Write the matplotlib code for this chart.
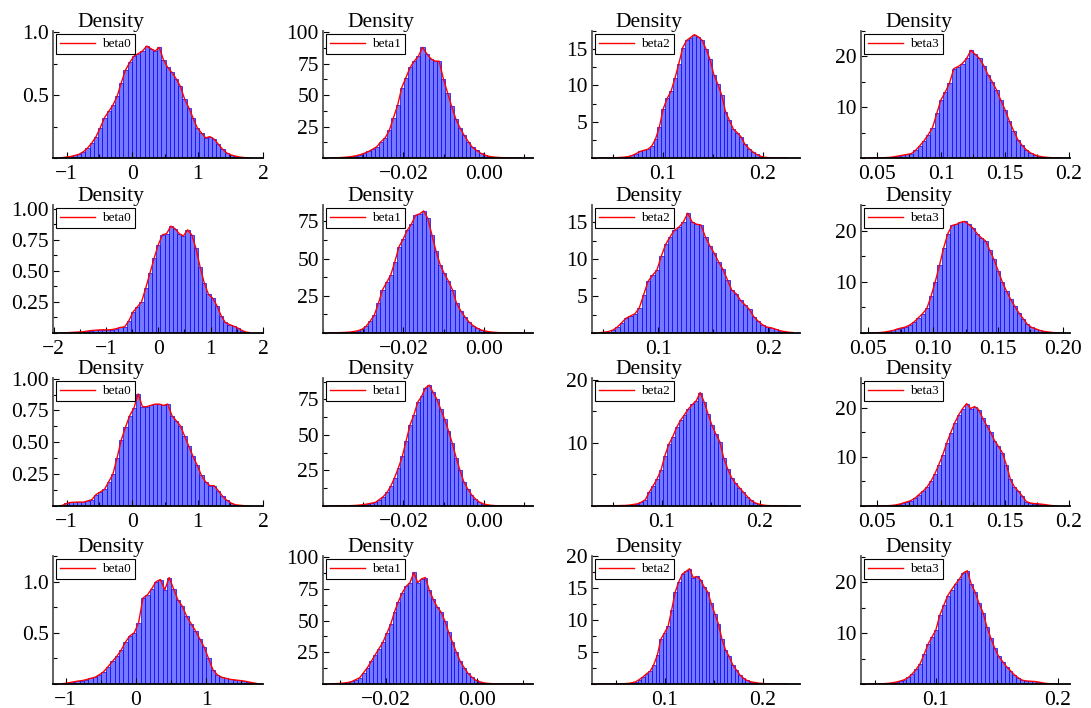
import matplotlib
matplotlib.use("Agg")
import matplotlib.pyplot as plt
from matplotlib.ticker import AutoMinorLocator
import numpy as np

plt.rcParams["font.family"] = ["Liberation Serif", "DejaVu Serif"]

W, H = 1091, 708

# column names (one parameter per column), one MCMC chain per row
params = ["beta0", "beta1", "beta2", "beta3"]

# histogram bin heights (density); bins span [lo, hi]
h11 = [0.003, 0.008, 0.012, 0.02, 0.03, 0.05, 0.08, 0.12, 0.17, 0.24, 0.32, 0.37, 0.42, 0.49, 0.60,
       0.70, 0.76, 0.81, 0.83, 0.85, 0.89, 0.87, 0.85, 0.88, 0.78, 0.72, 0.68, 0.63, 0.57, 0.47,
       0.40, 0.32, 0.24, 0.20, 0.16, 0.17, 0.15, 0.11, 0.07, 0.04, 0.025, 0.015, 0.008, 0.004, 0.001]
h12 = [0.1, 0.2, 0.3, 0.5, 0.8, 1.2, 1.8, 2.6, 3.8, 5.2, 7, 9, 13, 16, 22,
       32, 42, 56, 64, 72, 77, 81, 88, 83, 79, 77, 77, 63, 52, 41,
       31, 24, 18, 13, 8.5, 6, 3.8, 2.3, 1.3, 0.8, 0.5, 0.3, 0.2, 0.1, 0.05]
h13 = [0.0, 0.02, 0.03, 0.05, 0.08, 0.12, 0.2, 0.35, 0.6, 0.9, 1.05, 1.2, 1.6, 2.6, 4.3,
       6.8, 8.2, 9.2, 11, 13, 15.2, 16.2, 16.6, 17, 16.7, 16.2, 15, 13.6, 11.5, 10.2,
       8.7, 6.4, 5.2, 4.0, 3.5, 2.9, 1.9, 1.3, 0.85, 0.5, 0.25, 0.1, 0.05, 0.02, 0.01]
h14 = [0.02, 0.03, 0.05, 0.08, 0.12, 0.25, 0.4, 0.55, 0.7, 0.85, 1.5, 2.4, 3.4, 4.6, 6,
       8.8, 11.5, 13, 14.8, 17.6, 18, 18.6, 19.6, 21.2, 20.4, 19.6, 18.2, 16.4, 15, 13.4,
       11.4, 9.5, 7.3, 5.4, 3.6, 2.5, 1.6, 1.0, 0.6, 0.35, 0.2, 0.12, 0.06, 0.03, 0.01]

h21 = [0.002, 0.004, 0.006, 0.008, 0.01, 0.015, 0.02, 0.022, 0.025, 0.026, 0.025, 0.028, 0.035, 0.045, 0.05,
       0.10, 0.17, 0.21, 0.25, 0.36, 0.48, 0.60, 0.71, 0.79, 0.80, 0.86, 0.84, 0.80, 0.78, 0.83,
       0.79, 0.68, 0.53, 0.40, 0.31, 0.28, 0.22, 0.14, 0.085, 0.068, 0.055, 0.04, 0.02, 0.007, 0.002]
h22 = [0.05, 0.1, 0.2, 0.3, 0.4, 0.6, 1.0, 1.5, 2.5, 4.5, 8, 12, 20, 29, 34,
       39, 48, 58, 63, 69, 73, 79, 80, 82, 77, 66, 55, 46, 40, 35,
       29, 20, 15, 11, 7.5, 5, 3.3, 2, 1.3, 0.8, 0.5, 0.3, 0.15, 0.08, 0.03]
h23 = [0.05, 0.1, 0.2, 0.4, 0.8, 1.4, 2.0, 2.3, 2.6, 3.4, 5.2, 7.0, 7.8, 8.5, 10.4,
       12.0, 13.0, 13.9, 14.3, 15.0, 16.2, 15.0, 14.7, 14.6, 13.0, 11.8, 10.8, 9.6, 8.6, 7.2,
       5.8, 5.3, 4.4, 3.8, 3.2, 2.2, 1.6, 1.1, 0.8, 0.7, 0.5, 0.3, 0.2, 0.1, 0.05]
h24 = [0.05, 0.1, 0.2, 0.35, 0.5, 0.8, 1.0, 1.2, 1.6, 2.2, 3.0, 3.8, 4.8, 7.2, 10.0,
       13.2, 16.6, 19.4, 21.0, 21.2, 21.6, 21.8, 21.2, 20.5, 19.4, 18.6, 18.0, 16.2, 14.4, 12.2,
       10.0, 8.2, 6.6, 5.2, 3.9, 2.8, 1.7, 1.1, 0.8, 0.5, 0.3, 0.2, 0.1, 0.05, 0.02]

h31 = [0.005, 0.02, 0.028, 0.03, 0.031, 0.03, 0.04, 0.05, 0.09, 0.11, 0.13, 0.19, 0.25, 0.38, 0.52,
       0.62, 0.71, 0.77, 0.88, 0.78, 0.78, 0.79, 0.80, 0.80, 0.79, 0.80, 0.71, 0.67, 0.63, 0.55,
       0.47, 0.39, 0.32, 0.24, 0.19, 0.16, 0.16, 0.12, 0.077, 0.045, 0.024, 0.01, 0.006, 0.003, 0.001]
h32 = [0.05, 0.1, 0.15, 0.2, 0.3, 0.45, 0.7, 1.0, 1.5, 2.0, 2.5, 4.5, 6.5, 9.5, 14,
       20, 27, 35, 46, 57, 64, 73, 77, 83, 85, 80, 75, 68, 61, 53,
       44, 34, 25, 17, 12, 8, 5, 2.8, 1.6, 0.9, 0.5, 0.3, 0.15, 0.08, 0.03]
h33 = [0.02, 0.04, 0.06, 0.08, 0.1, 0.15, 0.25, 0.35, 0.6, 1.0, 2.2, 3.2, 4.3, 5.7, 8.0,
       9.8, 11.0, 12.5, 13.6, 14.5, 15.4, 16.1, 16.7, 18.0, 16.5, 14.6, 12.8, 11.4, 10.2, 7.6,
       5.9, 4.5, 3.6, 2.9, 2.2, 1.5, 0.9, 0.5, 0.3, 0.15, 0.08, 0.05, 0.03, 0.02, 0.01]
h34 = [0.02, 0.04, 0.06, 0.1, 0.2, 0.35, 0.6, 0.85, 1.1, 1.6, 2.3, 3.0, 3.8, 5.0, 6.5,
       8.4, 10.4, 12.8, 14.9, 16.9, 18.5, 19.8, 20.8, 19.8, 20.2, 19.6, 17.9, 16.4, 15.0, 13.3,
       12.1, 10.8, 8.3, 5.4, 3.9, 3.0, 2.0, 0.9, 0.6, 0.5, 0.45, 0.35, 0.25, 0.12, 0.05]

h41 = [0.005, 0.012, 0.02, 0.028, 0.033, 0.042, 0.055, 0.065, 0.09, 0.12, 0.17, 0.22, 0.27, 0.33, 0.41,
       0.47, 0.50, 0.60, 0.84, 0.87, 0.93, 1.00, 1.02, 0.92, 1.04, 0.93, 0.82, 0.76, 0.66, 0.59,
       0.52, 0.44, 0.36, 0.25, 0.14, 0.09, 0.066, 0.055, 0.045, 0.04, 0.035, 0.03, 0.022, 0.013, 0.005]
h42 = [0.2, 0.3, 0.5, 0.8, 1.2, 2, 3.5, 5, 9, 13, 18, 23, 28, 33, 40,
       47, 57, 65, 72, 77, 80, 88, 80, 83, 84, 74, 67, 61, 57, 50,
       41, 33, 25, 18, 13, 8.5, 5.5, 3, 1.8, 1.0, 0.5, 0.3, 0.15, 0.08, 0.03]
h43 = [0.02, 0.04, 0.06, 0.1, 0.2, 0.35, 0.7, 1.1, 1.6, 2.0, 3.0, 4.5, 7.0, 8.0, 9.0,
       11.6, 14.4, 16.0, 17.2, 17.6, 18.0, 16.6, 16.8, 16.3, 15.2, 14.4, 12.6, 11.0, 9.4, 7.0,
       5.3, 4.3, 3.0, 2.2, 1.4, 0.9, 0.55, 0.35, 0.25, 0.15, 0.1, 0.06, 0.03, 0.02, 0.01]
h44 = [0.03, 0.05, 0.08, 0.14, 0.25, 0.4, 0.6, 0.85, 1.3, 2.0, 2.9, 4.0, 5.8, 7.8, 9.2,
       10.6, 13.5, 15.4, 17.3, 18.5, 19.6, 20.6, 21.8, 22.2, 19.6, 18.0, 15.8, 14.0, 11.2, 9.0,
       7.0, 5.4, 4.4, 3.4, 2.6, 1.8, 1.2, 0.75, 0.6, 0.55, 0.5, 0.4, 0.25, 0.12, 0.05]

heights = [[h11, h12, h13, h14],
           [h21, h22, h23, h24],
           [h31, h32, h33, h34],
           [h41, h42, h43, h44]]

# bin range (lo, hi) of each histogram
bin_lo = [[-1.1, -0.0385, 0.04, 0.045],
          [-1.8, -0.039, 0.045, 0.055],
          [-1.1, -0.037, 0.045, 0.05],
          [-1.05, -0.032, 0.05, 0.05]]
bin_hi = [[1.8, 0.008, 0.215, 0.195],
          [1.8, 0.007, 0.225, 0.2],
          [1.8, 0.006, 0.225, 0.19],
          [1.75, 0.006, 0.215, 0.195]]

# axis limits and tick labels
x_lims = [[(-1.21, 2.0), (-0.040, 0.0122), (0.029, 0.237), (0.0374, 0.2008)],
          [(-2.01, 2.0), (-0.040, 0.0122), (0.040, 0.229), (0.0446, 0.2054)],
          [(-1.21, 2.0), (-0.040, 0.0122), (0.0286, 0.2408), (0.0374, 0.2008)],
          [(-1.18, 1.81), (-0.0337, 0.0122), (0.0255, 0.2378), (0.0385, 0.21)]]
x_ticks = [[[-1, 0, 1, 2], [-0.02, 0.0], [0.1, 0.2], [0.05, 0.1, 0.15, 0.2]],
           [[-2, -1, 0, 1, 2], [-0.02, 0.0], [0.1, 0.2], [0.05, 0.10, 0.15, 0.20]],
           [[-1, 0, 1, 2], [-0.02, 0.0], [0.1, 0.2], [0.05, 0.1, 0.15, 0.2]],
           [[-1, 0, 1], [-0.02, 0.0], [0.1, 0.2], [0.1, 0.2]]]
x_labels = [[["−1", "0", "1", "2"], ["−0.02", "0.00"], ["0.1", "0.2"], ["0.05", "0.1", "0.15", "0.2"]],
            [["−2", "−1", "0", "1", "2"], ["−0.02", "0.00"], ["0.1", "0.2"], ["0.05", "0.10", "0.15", "0.20"]],
            [["−1", "0", "1", "2"], ["−0.02", "0.00"], ["0.1", "0.2"], ["0.05", "0.1", "0.15", "0.2"]],
            [["−1", "0", "1"], ["−0.02", "0.00"], ["0.1", "0.2"], ["0.1", "0.2"]]]
y_tops = [[1.01, 101, 17.5, 25],
          [1.03, 86, 17.3, 25],
          [1.005, 90, 20.3, 26],
          [1.25, 101, 20.0, 25.1]]
y_ticks = [[[0.5, 1.0], [25, 50, 75, 100], [5, 10, 15], [10, 20]],
           [[0.25, 0.5, 0.75, 1.0], [25, 50, 75], [5, 10, 15], [10, 20]],
           [[0.25, 0.5, 0.75, 1.0], [25, 50, 75], [10, 20], [10, 20]],
           [[0.5, 1.0], [25, 50, 75, 100], [5, 10, 15, 20], [10, 20]]]
y_labels = [[["0.5", "1.0"], ["25", "50", "75", "100"], ["5", "10", "15"], ["10", "20"]],
            [["0.25", "0.50", "0.75", "1.00"], ["25", "50", "75"], ["5", "10", "15"], ["10", "20"]],
            [["0.25", "0.50", "0.75", "1.00"], ["25", "50", "75"], ["10", "20"], ["10", "20"]],
            [["0.5", "1.0"], ["25", "50", "75", "100"], ["5", "10", "15", "20"], ["10", "20"]]]

# panel placement in pixels
col_px = [(53, 263), (323, 533), (592, 800), (861, 1070)]
row_px = [(31, 158), (205, 333), (378, 506), (556, 684)]

fig = plt.figure(figsize=(W / 100, H / 100), dpi=100)

for r in range(4):
    for c in range(4):
        x0, x1 = col_px[c]
        y0, y1 = row_px[r]
        ax = fig.add_axes([x0 / W, 1 - y1 / H, (x1 - x0) / W, (y1 - y0) / H])

        h = np.array(heights[r][c])
        edges = np.linspace(bin_lo[r][c], bin_hi[r][c], len(h) + 1)
        centers = (edges[:-1] + edges[1:]) / 2
        ax.bar(edges[:-1], h, width=np.diff(edges), align="edge",
               color="#7878ff", edgecolor="#0000ff", linewidth=0.5)

        # density curve, running flat along zero into both tails
        span = x_lims[r][c][1] - x_lims[r][c][0]
        xs = np.concatenate([[x_lims[r][c][0] + 0.03 * span], centers,
                             [x_lims[r][c][1] - 0.06 * span]])
        ys = np.concatenate([[0], h, [0]])
        ax.plot(xs, ys, color="red", linewidth=1.0, label=params[c])

        ax.set_xlim(*x_lims[r][c])
        ax.set_ylim(0, y_tops[r][c])
        ax.set_xticks(x_ticks[r][c], x_labels[r][c])
        ax.set_yticks(y_ticks[r][c], y_labels[r][c])
        ax.xaxis.set_minor_locator(AutoMinorLocator(2))
        ax.yaxis.set_minor_locator(AutoMinorLocator(2))

        for side in ("top", "right"):
            ax.spines[side].set_visible(False)
        ax.spines["left"].set_color("#555555")
        ax.spines["left"].set_linewidth(1.3)
        ax.spines["bottom"].set_linewidth(1.3)
        ax.tick_params(which="both", direction="in", labelsize=15.5, width=0.8)
        ax.tick_params(axis="x", which="major", length=4, pad=5)
        ax.tick_params(axis="y", which="major", length=4, pad=3)
        ax.tick_params(which="minor", length=3)

        ax.text(0.275, 1.03, "Density", transform=ax.transAxes,
                ha="center", va="baseline", fontsize=15.5)
        leg = ax.legend(loc="upper left", fontsize=9.5, fancybox=False, framealpha=1,
                        edgecolor="black", borderaxespad=0.25, borderpad=0.3,
                        handlelength=2.6, handletextpad=0.6)
        leg.get_frame().set_linewidth(0.8)

fig.savefig("out.png", dpi=100)
